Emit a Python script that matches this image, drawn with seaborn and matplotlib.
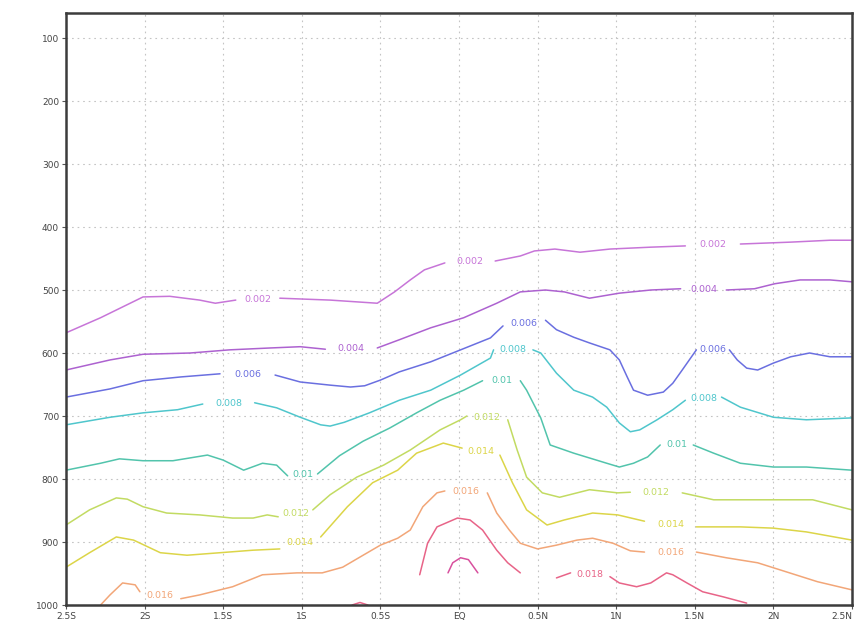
import numpy as np
import pandas as pd
import matplotlib
matplotlib.use("Agg")
import matplotlib.pyplot as plt
import seaborn as sns

nan = np.nan

# ---- contour lines (latitude, pressure hPa); nan = gap for a label ----
lat_002 = [-2.5, -2.28, -2.01, -1.84, -1.65, -1.55, -1.42, nan, -1.14, -0.82, -0.52, -0.41, -0.31, -0.22, -0.09, nan,
           0.23, 0.39, 0.48, 0.61, 0.77, 0.96, 1.22, 1.44, nan, 1.79, 2.11, 2.36, 2.5]
p_002 = [568, 544, 511, 510, 516, 521, 516, nan, 513, 516, 521, 503, 484, 468, 457, nan,
         454, 446, 438, 435, 440, 435, 432, 430, nan, 427, 424, 421, 421]

lat_004 = [-2.5, -2.22, -2.01, -1.71, -1.46, -1.20, -1.01, -0.85, nan, -0.52, -0.38, -0.18, 0.03, 0.24, 0.39, 0.55,
           0.67, 0.83, 1.02, 1.22, 1.41, nan, 1.70, 1.88, 2.01, 2.17, 2.36, 2.5]
p_004 = [627, 611, 602, 600, 595, 592, 590, 594, nan, 592, 579, 560, 544, 521, 503, 500,
         503, 513, 505, 500, 498, nan, 500, 498, 490, 484, 484, 487]

lat_006 = [-2.5, -2.22, -2.01, -1.77, -1.52, nan, -1.17, -1.01, -0.82, -0.69, -0.60, -0.50, -0.38, -0.18, 0.01, 0.20,
           0.28, nan, 0.55, 0.62, 0.73, 0.83, 0.96, 1.02, 1.07, 1.11, 1.20, 1.30, 1.36, 1.42, 1.51, nan,
           1.72, 1.77, 1.83, 1.90, 2.00, 2.11, 2.23, 2.36, 2.5]
p_006 = [670, 657, 644, 638, 633, nan, 635, 646, 651, 654, 652, 643, 630, 614, 595, 576,
         557, nan, 548, 563, 575, 584, 595, 611, 638, 659, 667, 662, 648, 627, 595, nan,
         595, 611, 624, 627, 616, 606, 600, 606, 606]

lat_008 = [-2.5, -2.22, -2.01, -1.79, -1.63, nan, -1.30, -1.16, -1.01, -0.88, -0.82, -0.73, -0.57, -0.38, -0.18, 0.01,
           0.20, 0.22, nan, 0.47, 0.52, 0.62, 0.73, 0.85, 0.94, 1.02, 1.09, 1.15, 1.26, 1.36, 1.44, nan,
           1.67, 1.79, 2.00, 2.21, 2.5]
p_008 = [714, 702, 695, 690, 681, nan, 679, 687, 702, 714, 716, 710, 695, 675, 659, 635,
         608, 595, nan, 595, 600, 632, 659, 670, 686, 711, 725, 722, 706, 690, 675, nan,
         670, 686, 702, 706, 703]

lat_010 = [-2.5, -2.28, -2.16, -2.01, -1.82, -1.60, -1.50, -1.37, -1.25, -1.16, -1.09, nan, -0.90, -0.76, -0.61, -0.44,
           -0.27, -0.12, 0.03, 0.15, nan, 0.39, 0.43, 0.52, 0.58, 0.73, 0.94, 1.02, 1.11, 1.20, 1.28, nan,
           1.49, 1.62, 1.79, 2.00, 2.21, 2.5]
p_010 = [786, 775, 768, 771, 771, 762, 770, 786, 775, 778, 795, nan, 792, 763, 740, 719,
         695, 675, 659, 644, nan, 644, 659, 703, 746, 759, 775, 781, 775, 765, 746, nan,
         746, 759, 775, 781, 781, 786]

lat_012 = [-2.5, -2.35, -2.18, -2.11, -2.01, -1.86, -1.65, -1.44, -1.31, -1.22, -1.15, nan, -0.93, -0.82, -0.65, -0.48,
           -0.31, -0.12, 0.01, 0.05, nan, 0.31, 0.37, 0.43, 0.53, 0.64, 0.83, 1.01, 1.09, nan,
           1.42, 1.62, 2.00, 2.25, 2.5]
p_012 = [873, 849, 830, 832, 844, 854, 857, 862, 862, 857, 860, nan, 849, 825, 797, 778,
         754, 722, 706, 700, nan, 706, 754, 797, 822, 829, 817, 822, 821, nan,
         822, 833, 833, 833, 849]

lat_014 = [-2.5, -2.35, -2.18, -2.07, -1.90, -1.73, -1.52, -1.31, -1.14, nan, -0.88, -0.71, -0.55, -0.39, -0.27, -0.10,
           0.02, nan, 0.26, 0.34, 0.43, 0.56, 0.67, 0.85, 1.01, 1.18, nan, 1.51, 1.79, 2.00, 2.21, 2.5]
p_014 = [940, 917, 892, 897, 917, 921, 917, 913, 911, nan, 892, 844, 806, 786, 759, 743,
         751, nan, 762, 806, 849, 873, 865, 854, 857, 867, nan, 876, 876, 878, 884, 897]

lat_016 = [-2.28, -2.22, -2.14, -2.06, -2.03, nan, -1.77, -1.65, -1.44, -1.25, -1.03, -0.87, -0.74, -0.61, -0.50, -0.39,
           -0.31, -0.23, -0.14, -0.09, nan, 0.18, 0.24, 0.32, 0.39, 0.50, 0.62, 0.75, 0.85, 0.98, 1.09, 1.18, nan,
           1.51, 1.70, 1.90, 2.09, 2.28, 2.5]
p_016 = [1000, 984, 965, 968, 979, nan, 990, 984, 971, 952, 949, 949, 940, 921, 905, 894,
         881, 844, 822, 819, nan, 822, 854, 881, 902, 911, 905, 897, 894, 902, 914, 916, nan,
         916, 925, 933, 948, 963, 976]

lat_018a = [-0.25, -0.20, -0.14, -0.01, 0.07, 0.15, 0.24, 0.31, 0.39]
p_018a = [952, 902, 876, 862, 865, 881, 913, 933, 949]

lat_018b = [0.62, 0.71, nan, 0.96, 1.02, 1.13, 1.22, 1.32, 1.36, 1.45, 1.55, 1.68, 1.83]
p_018b = [957, 949, nan, 955, 965, 971, 965, 949, 952, 965, 979, 987, 997]

lat_018c = [-0.68, -0.63, -0.58]
p_018c = [1000, 996, 1000]

lat_020 = [-0.07, -0.04, 0.01, 0.06, 0.12]
p_020 = [949, 933, 925, 928, 949]

lines = [
    ("0.002", lat_002, p_002), ("0.004", lat_004, p_004), ("0.006", lat_006, p_006),
    ("0.008", lat_008, p_008), ("0.01", lat_010, p_010), ("0.012", lat_012, p_012),
    ("0.014", lat_014, p_014), ("0.016", lat_016, p_016), ("0.018", lat_018a, p_018a),
    ("0.018", lat_018b, p_018b), ("0.018", lat_018c, p_018c), ("0.02", lat_020, p_020),
]

colors = {
    "0.002": "#c775d8", "0.004": "#ad62d0", "0.006": "#6a6fe0", "0.008": "#4fc6cc",
    "0.01": "#52c4ac", "0.012": "#c2db62", "0.014": "#dcd548", "0.016": "#f2a678",
    "0.018": "#e86488", "0.02": "#d8509e",
}

xtick_vals = [-2.5, -2.0, -1.5, -1.0, -0.5, 0.0, 0.5, 1.0, 1.5, 2.0, 2.5]
xtick_labels = ["2.5S", "2S", "1.5S", "1S", "0.5S", "EQ", "0.5N", "1N", "1.5N", "2N", "2.5N"]
ytick_vals = [100, 200, 300, 400, 500, 600, 700, 800, 900, 1000]
ytick_labels = [str(v) for v in ytick_vals]

# ---- build a long table: one unit per unbroken piece, labels at the gaps ----
rows, labels = [], []
seg = 0
for lev, la, pp in lines:
    la = np.asarray(la, float)
    pp = np.asarray(pp, float)
    gaps = np.where(np.isnan(la))[0]
    starts = [0] + list(gaps + 1)
    ends = list(gaps) + [len(la)]
    for s, e in zip(starts, ends):
        for x, y in zip(la[s:e], pp[s:e]):
            rows.append((lev, seg, x, y))
        seg += 1
    for g in gaps:
        labels.append((lev, (la[g - 1] + la[g + 1]) / 2, (pp[g - 1] + pp[g + 1]) / 2))
df = pd.DataFrame(rows, columns=["level", "seg", "lat", "p"])

sns.set_theme(style="white")
plt.rcParams["font.family"] = ["DejaVu Sans"]

fig = plt.figure(figsize=(8.6, 6.28), dpi=100)
ax = fig.add_axes([66 / 860, 1 - 605 / 628, (852 - 66) / 860, (605 - 13) / 628])

ax.set_xlim(-2.5, 2.5)
ax.set_ylim(1000, 60.3)
ax.set_xticks(xtick_vals)
ax.set_xticklabels(xtick_labels)
ax.set_yticks(ytick_vals)
ax.set_yticklabels(ytick_labels)
ax.grid(True, linestyle=(0, (1.5, 3.5)), color="#c4c4c4", linewidth=0.8)
ax.set_axisbelow(True)

sns.lineplot(data=df, x="lat", y="p", hue="level", units="seg", estimator=None, sort=False,
             palette=colors, legend=False, linewidth=1.1, ax=ax)
for ln in ax.lines:
    ln.set_solid_joinstyle("round")
    ln.set_solid_capstyle("round")

for lev, x, y in labels:
    ax.text(x, y, lev, color=colors[lev], fontsize=6.8, ha="center", va="center")

ax.set_xlabel("")
ax.set_ylabel("")
ax.tick_params(axis="both", direction="out", length=3, width=0.8, color="#555555",
               labelsize=6.5, labelcolor="#444444", pad=2, left=True, bottom=True)
# last x label sits at the figure edge as in the reference; keep it inside
ax.get_xticklabels()[-1].set_horizontalalignment("right")
for sp in ax.spines.values():
    sp.set_linewidth(1.8)
    sp.set_color("#3c3c3c")

fig.savefig("out.png", dpi=100, facecolor="white")
